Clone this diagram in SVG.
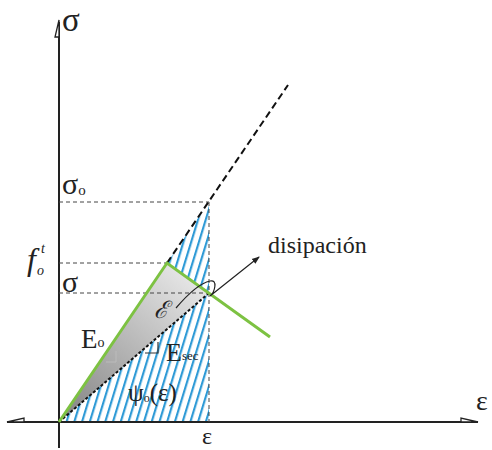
<svg xmlns="http://www.w3.org/2000/svg" width="492" height="450" viewBox="0 0 492 450">
<style>
.ax{stroke:#222;stroke-width:2;fill:none}
.ah{stroke:#222;stroke-width:1.3;fill:#fff}
.dh{stroke:#444;stroke-width:1;stroke-dasharray:4 3;fill:none}
.t{font-family:"Liberation Serif","DejaVu Serif",serif;fill:#222}
.i{font-style:italic}
</style>
<defs>
<pattern id="hatch" patternUnits="userSpaceOnUse" width="7.4" height="10" patternTransform="rotate(17)">
<rect width="7.4" height="10" fill="#fff"/>
<line x1="2" y1="0" x2="2" y2="10" stroke="#2e9ad6" stroke-width="2.2"/>
</pattern>
<linearGradient id="gray" gradientUnits="userSpaceOnUse" x1="70" y1="410" x2="190" y2="270">
<stop offset="0" stop-color="#8a8a8a"/>
<stop offset="1" stop-color="#e8e8e8"/>
</linearGradient>
<marker id="arr" markerWidth="8" markerHeight="8" refX="7" refY="4" orient="auto" markerUnits="userSpaceOnUse">
<path d="M0,1 L8,4 L0,7 Z" fill="#222"/>
</marker>
</defs>
<g id="areas">
<polygon id="hatch-lower" points="59,422 209,293 209,422" fill="url(#hatch)"/>
<polygon id="hatch-upper" points="167,263 209,202 209,293" fill="url(#hatch)"/>
<polygon id="energy" points="59,422 167,263 209,293" fill="url(#gray)"/>
</g>
<g id="axes">
<line class="ax" x1="59" y1="22" x2="59" y2="448"/>
<line class="ax" x1="7" y1="422" x2="478" y2="422"/>
<path class="ah" d="M59,20 L55,37 L59,37 Z"/>
<path class="ah" d="M478,422 L461,418 L461,422 Z"/>
<path class="ah" d="M7,422 L24,418 L24,422 Z"/>
</g>
<g id="connectors">
<line class="dh" x1="59" y1="202" x2="209" y2="202"/>
<line class="dh" x1="59" y1="263" x2="167" y2="263"/>
<line class="dh" x1="59" y1="293" x2="209" y2="293"/>
<line class="dh" x1="209" y1="202" x2="209" y2="422"/>
<line x1="59" y1="422" x2="209" y2="293" stroke="#111" stroke-width="2" stroke-dasharray="3 2"/>
<line x1="167" y1="263" x2="288" y2="85" stroke="#111" stroke-width="2" stroke-dasharray="7 4"/>
<path d="M59,422 L167,263 L270,337" fill="none" stroke="#7dc242" stroke-width="3"/>
<path d="M145,353 L158,353 L158,342" fill="none" stroke="#333" stroke-width="1.2"/>
<path d="M106,362 L116,362 L116,351" fill="none" stroke="#bbb" stroke-width="1"/>
<path d="M176,308 C188,294 200,283 210,281 C218,279 215,292 210,296 L259,257" fill="none" stroke="#222" stroke-width="1.2" marker-end="url(#arr)"/>
</g>
<g id="labels">
<text class="t" x="62" y="31" font-size="33">σ</text>
<text class="t" x="476" y="410" font-size="28">ε</text>
<text class="t" x="202" y="444" font-size="24">ε</text>
<text class="t" x="62" y="194" font-size="30">σ<tspan font-size="15" dy="1">o</tspan></text>
<text class="t" x="62" y="292" font-size="30">σ</text>
<text class="t i" x="27" y="270" font-size="32">f</text>
<text class="t i" x="41" y="253" font-size="14">t</text>
<text class="t i" x="37" y="275" font-size="14">o</text>
<text class="t" x="81" y="348" font-size="27">E<tspan font-size="14" dy="-1">o</tspan></text>
<text class="t" x="166" y="361" font-size="26">E<tspan font-size="13" dy="-1">sec</tspan></text>
<text class="t" x="128" y="401" font-size="25">ψ<tspan font-size="12" dy="1">o</tspan><tspan dy="-1">(ε)</tspan></text>
<text class="t i" x="154" y="318" font-size="24">ℰ</text>
<text class="t" x="268" y="253" font-size="24">disipación</text>
</g>
</svg>
